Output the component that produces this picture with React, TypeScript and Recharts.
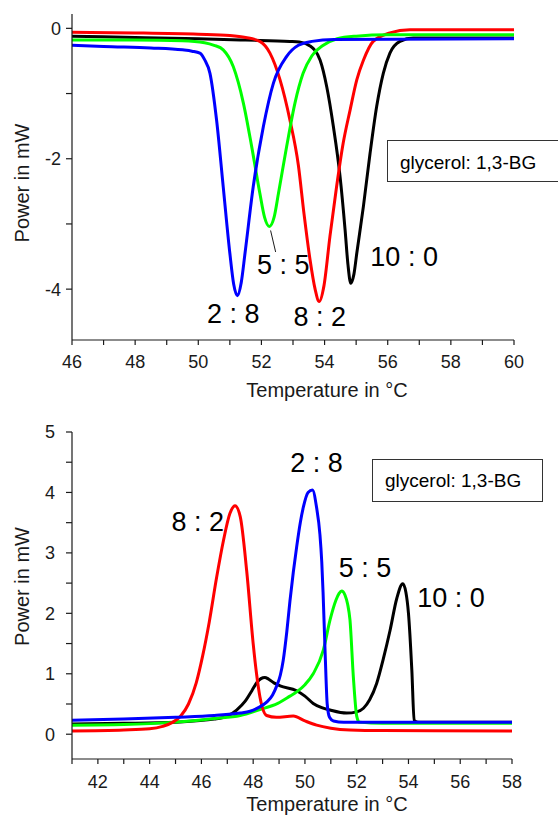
import { LineChart, Line, XAxis, YAxis, ReferenceDot, ReferenceLine } from "recharts";

type Pt = [number, number];

// upper panel: heating scans (melting peaks), temperature °C vs power mW
const meltTempTicks = [46, 47, 48, 49, 50, 51, 52, 53, 54, 55, 56, 57, 58, 59, 60];
const meltPowerTicks = [-4, -3, -2, -1, 0];

const melt10_0: Pt[] = [
  [46, -0.12], [48, -0.14], [50, -0.16], [51.5, -0.18], [52.9, -0.2], [53.2, -0.21],
  [53.54, -0.27], [53.86, -0.49], [54.07, -0.9], [54.28, -1.51], [54.49, -2.27], [54.65, -3.09],
  [54.74, -3.62], [54.83, -3.91], [54.93, -3.77], [55.02, -3.45], [55.23, -2.73], [55.44, -1.92],
  [55.65, -1.2], [55.86, -0.69], [56.07, -0.38], [56.39, -0.2], [56.81, -0.15], [60, -0.15],
];
const melt8_2: Pt[] = [
  [46, -0.06], [48, -0.07], [50, -0.09], [51, -0.11], [51.5, -0.14], [51.95, -0.2],
  [52.27, -0.38], [52.59, -0.79], [52.9, -1.4], [53.17, -2.1], [53.35, -2.85], [53.54, -3.55],
  [53.7, -4.0], [53.83, -4.19], [53.98, -3.95], [54.17, -3.19], [54.38, -2.43], [54.59, -1.76],
  [54.81, -1.25], [55.02, -0.79], [55.23, -0.49], [55.54, -0.2], [56.07, -0.07], [56.7, -0.02],
  [60, -0.02],
];
const melt5_5: Pt[] = [
  [46, -0.18], [48, -0.18], [49.5, -0.19], [50.2, -0.22], [50.5, -0.26], [50.79, -0.33],
  [51.11, -0.59], [51.43, -1.15], [51.69, -1.81], [51.95, -2.53], [52.1, -2.9], [52.25, -3.04],
  [52.4, -2.9], [52.54, -2.53], [52.8, -1.81], [53.06, -1.15], [53.32, -0.69], [53.6, -0.42],
  [53.96, -0.26], [54.4, -0.16], [55, -0.12], [56, -0.1], [60, -0.1],
];
const melt2_8: Pt[] = [
  [46, -0.26], [47, -0.28], [48.5, -0.3], [49.5, -0.33], [49.8, -0.35], [50.05, -0.38],
  [50.2, -0.48], [50.37, -0.69], [50.58, -1.41], [50.79, -2.43], [51.0, -3.45], [51.12, -3.92],
  [51.24, -4.1], [51.36, -3.9], [51.48, -3.45], [51.74, -2.43], [52.06, -1.51], [52.38, -0.84],
  [52.8, -0.43], [53.17, -0.26], [53.6, -0.2], [54.3, -0.17], [60, -0.16],
];
const meltLabels = [
  { text: "2 : 8", t: 51.11, p: -4.37 },
  { text: "5 : 5", t: 52.69, p: -3.62 },
  { text: "8 : 2", t: 53.85, p: -4.42 },
  { text: "10 : 0", t: 56.52, p: -3.5 },
];
const meltLeader: Pt[] = [[52.29, -3.1], [52.45, -3.43]];

// lower panel: cooling scans (crystallisation peaks)
const crystTempTicks = [41, 42, 43, 44, 45, 46, 47, 48, 49, 50, 51, 52, 53, 54, 55, 56, 57, 58];
const crystPowerTicks = [0, 0.5, 1, 1.5, 2, 2.5, 3, 3.5, 4, 4.5, 5];

const cryst10_0: Pt[] = [
  [41, 0.17], [43, 0.18], [45, 0.2], [46.5, 0.25], [47.0, 0.3], [47.36, 0.4], [47.7, 0.55],
  [47.95, 0.72], [48.15, 0.86], [48.3, 0.92], [48.45, 0.94], [48.6, 0.91], [48.8, 0.85],
  [49.04, 0.8], [49.68, 0.72], [50.0, 0.63], [50.32, 0.51], [50.65, 0.44], [50.97, 0.4],
  [51.61, 0.35], [52.0, 0.37], [52.26, 0.43], [52.5, 0.57], [52.77, 0.84], [53.03, 1.25],
  [53.29, 1.72], [53.55, 2.25], [53.78, 2.49], [53.9, 2.35], [54.0, 2.0], [54.13, 1.06],
  [54.22, 0.23], [54.4, 0.2], [58, 0.2],
];
const cryst8_2: Pt[] = [
  [41, 0.055], [43, 0.07], [44, 0.09], [44.5, 0.13], [44.9, 0.2], [45.2, 0.3], [45.5, 0.5],
  [45.8, 0.85], [46.05, 1.3], [46.3, 1.85], [46.59, 2.6], [46.85, 3.2], [47.1, 3.65], [47.3, 3.78],
  [47.5, 3.6], [47.75, 2.7], [48.0, 1.5], [48.13, 1.0], [48.26, 0.62], [48.52, 0.31],
  [48.9, 0.28], [49.55, 0.3], [50, 0.22], [50.45, 0.15], [51, 0.1], [51.74, 0.07], [53, 0.06],
  [58, 0.055],
];
const cryst5_5: Pt[] = [
  [41, 0.15], [43, 0.16], [45, 0.2], [46.5, 0.26], [47.5, 0.31], [48.2, 0.4], [48.95, 0.51],
  [49.42, 0.63], [49.68, 0.7], [50.0, 0.82], [50.32, 1.0], [50.71, 1.39], [50.97, 1.89],
  [51.2, 2.22], [51.32, 2.33], [51.42, 2.37], [51.55, 2.3], [51.65, 2.15], [51.74, 1.89],
  [51.87, 0.95], [52.0, 0.3], [52.1, 0.2], [53, 0.18], [58, 0.18],
];
const cryst2_8: Pt[] = [
  [41, 0.23], [43, 0.25], [45, 0.28], [46.5, 0.31], [47.5, 0.35], [47.88, 0.38], [48.2, 0.44],
  [48.52, 0.53], [48.75, 0.65], [48.91, 0.8], [49.05, 0.98], [49.16, 1.22], [49.3, 1.7],
  [49.42, 2.2], [49.55, 2.68], [49.68, 3.1], [49.82, 3.5], [49.94, 3.76], [50.12, 4.0],
  [50.29, 4.04], [50.45, 3.75], [50.58, 3.3], [50.65, 2.85], [50.7, 2.35], [50.78, 1.35],
  [50.86, 0.5], [50.95, 0.28], [51.1, 0.22], [51.5, 0.2], [58, 0.2],
];
const crystLabels = [
  { text: "8 : 2", t: 45.86, p: 3.52 },
  { text: "2 : 8", t: 50.45, p: 4.5 },
  { text: "5 : 5", t: 52.32, p: 2.76 },
  { text: "10 : 0", t: 55.64, p: 2.27 },
];

const FONT = '"Liberation Sans", Arial, Helvetica, sans-serif';
const INK = "#1a1a1a";
const COLORS = { r10_0: "#000000", r8_2: "#ff0000", r5_5: "#00ff00", r2_8: "#0000ff" };

const rows = (pts: Pt[]) => pts.map(([t, p]) => ({ t, p }));

type Series = { key: string; color: string; pts: Pt[] };
type Label = { text: string; t: number; p: number };

interface PanelProps {
  top: number;
  height: number;
  margin: { top: number; right: number; bottom: number; left: number };
  xDomain: [number, number];
  yDomain: [number, number];
  xTicks: number[];
  yTicks: number[];
  yFormat: (v: number) => string;
  xTickMargin: number;
  yTickMargin: number;
  xAxisHeight: number;
  xTitleDx: number;
  yTitleDy: number;
  series: Series[];
  labels: Label[];
  leader?: Pt[];
}

function Panel(p: PanelProps) {
  return (
    <div style={{ position: "absolute", left: 0, top: p.top }}>
      <LineChart width={558} height={p.height} margin={p.margin}>
        <XAxis
          dataKey="t"
          type="number"
          domain={p.xDomain}
          ticks={p.xTicks}
          interval={0}
          allowDataOverflow
          tickFormatter={(v: number) => (v % 2 === 0 ? String(v) : "")}
          tick={{ fontSize: 18, fill: INK }}
          tickSize={5}
          tickMargin={p.xTickMargin}
          stroke={INK}
          strokeWidth={1.2}
          height={p.xAxisHeight}
          label={{
            value: "Temperature in °C",
            position: "insideBottom",
            offset: 5,
            dx: p.xTitleDx,
            fontSize: 20,
            fill: INK,
          }}
        />
        <YAxis
          type="number"
          domain={p.yDomain}
          ticks={p.yTicks}
          interval={0}
          allowDataOverflow
          tickFormatter={p.yFormat}
          tick={{ fontSize: 18, fill: INK }}
          tickSize={6}
          tickMargin={p.yTickMargin}
          stroke={INK}
          strokeWidth={1.2}
          width={72}
          label={{
            value: "Power in mW",
            angle: -90,
            position: "insideLeft",
            offset: 22,
            dy: p.yTitleDy,
            fontSize: 20,
            fill: INK,
            style: { textAnchor: "middle" },
          }}
        />
        {p.series.map((s) => (
          <Line
            key={s.key}
            data={rows(s.pts)}
            dataKey="p"
            type="monotone"
            stroke={s.color}
            strokeWidth={3}
            dot={false}
            isAnimationActive={false}
          />
        ))}
        {p.leader && (
          <ReferenceLine
            segment={p.leader.map(([x, y]) => ({ x, y }))}
            stroke={INK}
            strokeWidth={1}
            ifOverflow="visible"
          />
        )}
        {p.labels.map((l) => (
          <ReferenceDot
            key={l.text}
            x={l.t}
            y={l.p}
            r={0}
            fill="none"
            stroke="none"
            ifOverflow="visible"
            label={{ value: l.text, position: "center", fontSize: 27, fill: "#000" }}
          />
        ))}
      </LineChart>
    </div>
  );
}

const boxStyle = {
  position: "absolute" as const,
  border: "1px solid #333",
  background: "#fff",
  fontSize: 19,
  color: "#000",
  boxSizing: "border-box" as const,
  whiteSpace: "nowrap" as const,
};

export default function App() {
  return (
    <div
      style={{
        position: "absolute",
        left: 0,
        top: 0,
        width: 558,
        height: 819,
        overflow: "hidden",
        background: "#fff",
        fontFamily: FONT,
      }}
    >
      <Panel
        top={0}
        height={410}
        margin={{ top: 14, right: 44, bottom: 8, left: 0 }}
        xDomain={[46, 60]}
        yDomain={[-4.78, 0.22]}
        xTicks={meltTempTicks}
        yTicks={meltPowerTicks}
        yFormat={(v) => (v % 2 === 0 ? String(v) : "")}
        xTickMargin={10}
        yTickMargin={5}
        xAxisHeight={62}
        xTitleDx={34}
        yTitleDy={6}
        series={[
          { key: "10:0", color: COLORS.r10_0, pts: melt10_0 },
          { key: "8:2", color: COLORS.r8_2, pts: melt8_2 },
          { key: "5:5", color: COLORS.r5_5, pts: melt5_5 },
          { key: "2:8", color: COLORS.r2_8, pts: melt2_8 },
        ]}
        labels={meltLabels}
        leader={meltLeader}
      />
      <div style={{ ...boxStyle, left: 387, top: 140, width: 200, height: 42, lineHeight: "40px", paddingLeft: 12, paddingTop: 2 }}>
        glycerol: 1,3-BG
      </div>

      <Panel
        top={410}
        height={409}
        margin={{ top: 22, right: 46, bottom: 3, left: 0 }}
        xDomain={[41, 58]}
        yDomain={[-0.41, 5]}
        xTicks={crystTempTicks}
        yTicks={crystPowerTicks}
        yFormat={(v) => (v % 1 === 0 ? String(v) : "")}
        xTickMargin={11}
        yTickMargin={11}
        xAxisHeight={57}
        xTitleDx={35}
        yTitleDy={-9}
        series={[
          { key: "10:0", color: COLORS.r10_0, pts: cryst10_0 },
          { key: "5:5", color: COLORS.r5_5, pts: cryst5_5 },
          { key: "8:2", color: COLORS.r8_2, pts: cryst8_2 },
          { key: "2:8", color: COLORS.r2_8, pts: cryst2_8 },
        ]}
        labels={crystLabels}
      />
      <div style={{ ...boxStyle, left: 372, top: 459, width: 171, height: 43, lineHeight: "41px", paddingLeft: 12 }}>
        glycerol: 1,3-BG
      </div>
    </div>
  );
}
